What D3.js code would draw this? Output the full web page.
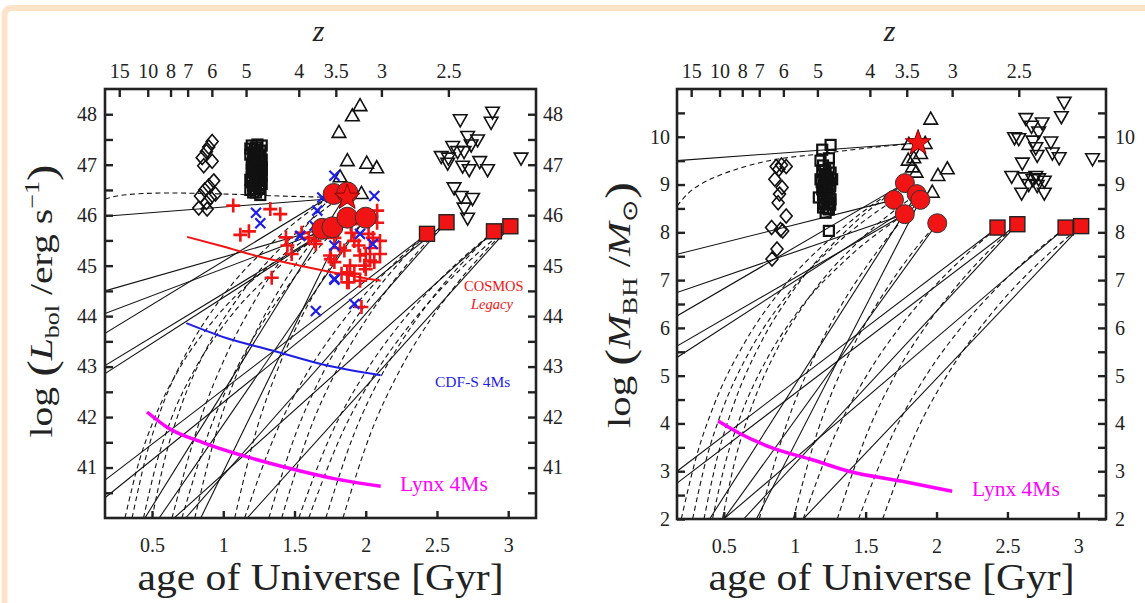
<!DOCTYPE html>
<html><head><meta charset="utf-8">
<script src="https://cdn.jsdelivr.net/npm/d3@7"></script>
<style>
body{margin:0;background:#fff}
svg{display:block}
text{font-family:"Liberation Serif","Times New Roman",serif;fill:#222}
</style>
</head><body>
<svg id="c" width="1145" height="603"></svg>
<script>
// ---------------- data ----------------
const ageTicks = [0.5, 1, 1.5, 2, 2.5, 3];
const zTickLabels = ["15","10","8","7","6","5","4","3.5","3","2.5"];
const zTickAges = [0.27, 0.47, 0.63, 0.75, 0.92, 1.16, 1.53, 1.79, 2.11, 2.58];
const lumTicks = [40.5,41,41.5,42,42.5,43,43.5,44,44.5,45,45.5,46,46.5,47,47.5,48];
const massTicks = [2,2.5,3,3.5,4,4.5,5,5.5,6,6.5,7,7.5,8,8.5,9,9.5,10,10.5];

// left panel (log Lbol)
const diamondsL = [[0.922,47.46],[0.898,47.35],[0.882,47.26],[0.852,47.14],[0.922,47.07],[0.863,46.98],[0.933,46.68],[0.898,46.58],[0.84,46.38],[0.91,46.35],[0.882,46.25],[0.828,46.14],[0.887,46.12],[0.945,46.42],[0.87,46.5]];
const squaresL = [[1.20,47.38],[1.24,47.40],[1.27,47.38],[1.22,47.30],[1.26,47.28],[1.19,47.20],[1.25,47.18],[1.27,47.10],[1.21,47.08],[1.23,47.0],[1.27,46.95],[1.20,46.90],[1.25,46.85],[1.27,46.78],[1.22,46.78],[1.19,46.70],[1.24,46.68],[1.27,46.62],[1.21,46.58],[1.25,46.55],[1.23,46.45],[1.26,46.40],[1.20,46.65],[1.27,46.90],[1.22,47.15],[1.24,46.95],[1.19,47.32],[1.25,47.05],[1.21,46.85],[1.26,46.72],[1.23,46.60],[1.19,46.50],[1.24,47.24],[1.22,46.52],[1.23,47.34],[1.21,47.24],[1.26,47.15],[1.23,47.10],[1.20,47.02],[1.26,47.00],[1.22,46.92],[1.24,46.80],[1.20,46.75],[1.26,46.52],[1.23,46.70],[1.21,46.45]];
const triUpL = [[1.96,48.16],[1.906,47.96],[1.812,47.63],[1.871,47.07],[2.007,47.02],[2.077,46.93],[1.82,46.75],[1.97,46.42]];
const triDownL = [[2.663,47.90],[2.89,48.05],[2.88,47.85],[2.715,47.57],[2.785,47.50],[2.53,47.17],[2.61,47.37],[2.645,47.27],[2.69,47.27],[2.575,47.04],[2.80,47.07],[2.855,46.91],[2.726,46.91],[2.68,46.98],[3.09,47.14],[2.62,46.55],[2.67,46.38],[2.75,46.34],[2.69,46.15],[2.715,45.95],[2.58,47.14],[2.74,47.40]];
const circlesL = [[1.775,46.42],[1.871,46.45],[1.695,45.73],[1.766,45.76],[1.871,45.95],[2.0,45.95]];
const starL = [[1.87,46.35]];
const redSquaresL = [[2.43,45.63],[2.567,45.86],[2.90,45.68],[3.015,45.78]];
const plusL = [[1.07,46.19],[1.33,46.12],[1.40,46.02],[1.12,45.61],[1.18,45.68],[1.44,45.56],[1.48,45.23],[1.45,45.40],[1.65,45.43],[1.755,45.13],[1.34,44.76],[2.08,46.09],[2.02,45.63],[1.92,45.49],[2.10,45.49],[1.64,45.49],[1.75,45.20],[1.85,45.30],[1.96,45.20],[2.0,45.23],[1.78,45.07],[1.89,45.0],[1.99,45.0],[2.06,45.07],[1.92,44.84],[1.83,44.84],[2.0,44.93],[1.87,44.67],[1.96,44.70],[2.1,45.23],[2.03,45.35],[1.895,45.82],[1.87,44.87],[2.03,45.10],[1.97,44.18],[1.88,44.67],[1.60,45.55],[1.55,45.65],[1.90,45.65],[2.05,45.55],[1.82,45.35],[1.95,45.40],[2.08,45.85],[1.78,45.55]];
const crossL = [[1.23,46.05],[1.26,45.84],[1.54,45.59],[1.64,45.79],[1.66,46.09],[1.695,46.35],[1.78,46.78],[1.78,45.40],[2.06,46.38],[1.96,45.63],[2.05,45.43],[1.78,44.72],[1.65,44.10],[1.92,44.24],[1.78,44.74]];
const cosmosCurve = [[0.746,45.57],[1.0,45.38],[1.25,45.18],[1.54,45.0],[1.82,44.84],[2.105,44.70]];
const cdfsCurve = [[0.741,43.86],[1.015,43.57],[1.344,43.32],[1.73,43.02],[2.105,42.83]];
const lynxCurveL = [[0.465,42.10],[0.605,41.80],[0.863,41.49],[1.168,41.21],[1.47,40.98],[1.777,40.78],[2.105,40.63]];
const solidL = [[0.17,45.98,1.87,46.35],[0.17,44.50,1.695,45.73],[0.17,44.05,1.766,45.76],[0.17,43.66,1.775,46.42],[0.17,43.02,1.766,45.76],[0.17,42.86,1.871,45.95],[0.17,40.75,2.43,45.63],[0.17,40.40,2.567,45.86],[0.655,40,2.90,45.68],[0.736,40,2.567,45.86],[0.55,40,2.0,45.95],[0.842,40,1.871,45.95],[1.168,40,3.015,45.78],[0.45,40,1.871,46.45]];
const dashedL = [
 [[0.17,46.32],[0.3,46.40],[0.6,46.44],[1.0,46.42],[1.4,46.38],[1.8,46.35]],
 [[0.31,40],[0.409,41.12],[0.508,41.91],[0.706,43.03],[0.904,43.82],[1.299,44.94],[1.695,45.73]],
 [[0.36,40],[0.461,41.25],[0.562,42.14],[0.764,43.39],[0.966,44.28],[1.371,45.53],[1.775,46.42]],
 [[0.44,40],[0.535,41.12],[0.629,41.92],[0.819,43.04],[1.009,43.84],[1.388,44.97],[1.766,45.76]],
 [[0.50,40],[0.598,41.26],[0.696,42.15],[0.892,43.41],[1.088,44.30],[1.479,45.56],[1.871,46.45]],
 [[0.64,40],[0.829,41.87],[1.018,43.21],[1.208,44.24],[1.397,45.08],[1.586,45.80],[1.775,46.42]],
 [[0.71,40],[0.904,41.74],[1.097,42.98],[1.291,43.93],[1.484,44.71],[1.678,45.38],[1.871,45.95]],
 [[0.80,40],[0.949,41.67],[1.098,42.87],[1.248,43.79],[1.397,44.54],[1.546,45.18],[1.695,45.73]],
 [[1.08,40],[1.233,41.74],[1.387,42.98],[1.54,43.93],[1.693,44.71],[1.847,45.38],[2.0,45.95]],
 [[1.15,40],[1.363,41.64],[1.577,42.82],[1.79,43.72],[2.003,44.46],[2.217,45.09],[2.43,45.63]],
 [[1.32,40],[1.505,41.64],[1.69,42.82],[1.875,43.72],[2.06,44.46],[2.245,45.09],[2.43,45.63]],
 [[1.41,40],[1.603,41.71],[1.796,42.93],[1.989,43.87],[2.181,44.64],[2.374,45.30],[2.567,45.86]],
 [[1.53,40],[1.758,41.66],[1.987,42.84],[2.215,43.75],[2.443,44.50],[2.672,45.13],[2.90,45.68]],
 [[1.72,40],[1.917,41.66],[2.113,42.84],[2.31,43.75],[2.507,44.50],[2.703,45.13],[2.90,45.68]],
 [[1.60,40],[1.836,41.69],[2.072,42.89],[2.308,43.82],[2.543,44.58],[2.779,45.23],[3.015,45.78]],
 [[1.84,40],[2.036,41.69],[2.232,42.89],[2.428,43.82],[2.623,44.58],[2.819,45.23],[3.015,45.78]]
];

// right panel (log MBH)
const diamondsR = [[0.869,9.38],[0.907,9.41],[0.94,9.38],[0.888,9.32],[0.86,9.11],[0.911,8.94],[0.893,8.80],[0.883,8.62],[0.94,8.34],[0.837,8.10],[0.90,8.06],[0.915,8.03],[0.875,7.65],[0.84,7.44]];
const squaresR = [[1.253,9.83],[1.194,9.73],[1.241,9.55],[1.182,9.50],[1.194,9.29],[1.218,9.22],[1.253,9.25],[1.182,9.11],[1.218,9.04],[1.264,9.11],[1.194,8.90],[1.230,8.83],[1.17,8.73],[1.253,8.69],[1.206,8.59],[1.241,8.48],[1.218,8.41],[1.241,8.03],[1.206,9.0],[1.23,8.95],[1.2,8.78],[1.245,8.75],[1.21,8.65],[1.23,9.15],[1.2,9.4],[1.24,9.35],[1.22,8.88],[1.19,9.05],[1.25,8.58],[1.215,9.30],[1.235,9.08],[1.205,8.92],[1.25,8.97],[1.225,8.70],[1.2,8.52],[1.24,8.62],[1.21,9.18],[1.25,9.02],[1.23,8.50]];
const triUpR = [[1.959,10.36],[1.805,9.83],[1.92,9.85],[1.888,9.64],[1.80,9.50],[1.84,9.55],[1.83,9.36],[1.856,9.25],[2.01,9.18],[2.076,9.32],[1.97,8.83]];
const triDownR = [[2.90,10.73],[2.88,10.43],[2.63,10.39],[2.67,10.23],[2.745,10.30],[2.72,10.11],[2.55,9.99],[2.58,9.97],[2.68,9.92],[2.806,9.90],[2.70,9.78],[2.817,9.67],[2.865,9.57],[2.71,9.62],[2.605,9.46],[3.10,9.55],[2.53,9.18],[2.62,9.15],[2.68,9.11],[2.72,9.13],[2.76,9.08],[2.65,9.01],[2.71,8.99],[2.60,8.83],[2.76,8.83],[2.70,9.18]];
const circlesR = [[1.777,9.03],[1.70,8.68],[1.86,8.80],[1.886,8.68],[1.776,8.38],[2.005,8.19]];
const starR = [[1.87,9.87]];
const redSquaresR = [[2.43,8.10],[2.57,8.17],[2.91,8.10],[3.02,8.13]];
const lynxCurveR = [[0.46,4.05],[0.606,3.80],[0.841,3.49],[1.124,3.24],[1.38,3.0],[1.758,2.79],[2.11,2.58]];
const solidR = [[0.17,9.50,1.87,9.87],[0.17,7.54,1.70,8.68],[0.17,6.74,1.776,8.38],[0.17,6.25,1.777,9.03],[0.17,5.62,1.776,8.38],[0.17,5.38,1.886,8.68],[0.17,3.00,2.43,8.10],[0.17,2.75,2.57,8.17],[0.50,2,2.91,8.10],[0.64,2,2.57,8.17],[0.50,2,2.005,8.19],[0.73,2,1.886,8.68],[1.06,2,3.02,8.13],[0.40,2,1.86,8.80]];
const dashedR = [
 [[0.17,8.55],[0.25,8.82],[0.35,9.03],[0.46,9.18],[0.62,9.35],[0.82,9.50],[1.17,9.64],[1.5,9.76],[1.87,9.87]],
 [[0.28,2],[0.381,3.30],[0.483,4.23],[0.686,5.53],[0.889,6.46],[1.294,7.76],[1.70,8.68]],
 [[0.36,2],[0.461,3.37],[0.563,4.34],[0.765,5.71],[0.968,6.69],[1.372,8.06],[1.777,9.03]],
 [[0.42,2],[0.517,3.24],[0.614,4.12],[0.808,5.37],[1.002,6.26],[1.388,7.50],[1.776,8.38]],
 [[0.49,2],[0.588,3.33],[0.686,4.26],[0.882,5.59],[1.078,6.54],[1.468,7.86],[1.86,8.80]],
 [[0.20,2],[0.313,3.37],[0.425,4.34],[0.651,5.71],[0.876,6.69],[1.326,8.06],[1.777,9.03]],
 [[0.75,2],[0.939,3.95],[1.129,5.34],[1.318,6.42],[1.507,7.29],[1.696,8.04],[1.886,8.68]],
 [[0.99,2],[1.159,3.81],[1.328,5.10],[1.498,6.09],[1.667,6.90],[1.836,7.60],[2.005,8.19]],
 [[1.06,2],[1.288,3.78],[1.517,5.05],[1.745,6.03],[1.973,6.83],[2.202,7.51],[2.43,8.10]],
 [[1.30,2],[1.512,3.80],[1.723,5.09],[1.935,6.08],[2.147,6.89],[2.358,7.58],[2.57,8.17]],
 [[1.45,2],[1.693,3.78],[1.937,5.05],[2.18,6.03],[2.423,6.83],[2.667,7.51],[2.91,8.10]],
 [[1.62,2],[1.853,3.79],[2.087,5.07],[2.32,6.05],[2.553,6.86],[2.787,7.54],[3.02,8.13]]
];

// ---------------- drawing ----------------
const svg = d3.select("#c");
const RED = "#f01414", BLUE = "#1e1ee6", MAG = "#ff00ff";

// outer peach frame
svg.append("path").attr("d","M4.5,603 L4.5,16 Q4.5,8 12.5,8 L1145,8")
   .attr("fill","none").attr("stroke","#fde3c8").attr("stroke-width",6);

function panel(cfg){
  const x = d3.scaleLinear().domain([0.17,3.195]).range([cfg.x0,cfg.x1]);
  const y = d3.scaleLinear().domain(cfg.ydom).range([cfg.y1,cfg.y0]);
  const g = svg.append("g");
  const cid = "clip"+cfg.id;
  g.append("clipPath").attr("id",cid).append("rect")
   .attr("x",cfg.x0).attr("y",cfg.y0).attr("width",cfg.x1-cfg.x0).attr("height",cfg.y1-cfg.y0);
  const pg = g.append("g").attr("clip-path",`url(#${cid})`);

  // growth tracks
  pg.selectAll("line.s").data(cfg.solid).join("line")
    .attr("x1",d=>x(d[0])).attr("y1",d=>y(d[1])).attr("x2",d=>x(d[2])).attr("y2",d=>y(d[3]))
    .attr("stroke","#111").attr("stroke-width",1.1);
  const ln = d3.line().x(d=>x(d[0])).y(d=>y(d[1])).curve(d3.curveMonotoneX);
  pg.selectAll("path.d").data(cfg.dashed).join("path")
    .attr("d",ln).attr("fill","none").attr("stroke","#111").attr("stroke-width",1.1)
    .attr("stroke-dasharray","5,3.5");
  // survey curves
  cfg.curves.forEach(c=>{
    pg.append("path").attr("d",ln(c.data)).attr("fill","none")
      .attr("stroke",c.color).attr("stroke-width",c.w);
  });
  // open markers
  const diamond = "M0,-7L6,0L0,7L-6,0Z";
  const triUp = "M0,-7.5L6.8,4.5L-6.8,4.5Z";
  const triDown = "M0,7.5L6.8,-4.5L-6.8,-4.5Z";
  const mk = (data,path,sw)=>pg.append("g").selectAll("path").data(data).join("path")
    .attr("transform",d=>`translate(${x(d[0])},${y(d[1])})`).attr("d",path)
    .attr("fill","none").attr("stroke","#111").attr("stroke-width",sw);
  mk(cfg.diamonds,diamond,1.6);
  pg.append("g").selectAll("rect").data(cfg.squares).join("rect")
    .attr("x",d=>x(d[0])-5).attr("y",d=>y(d[1])-5).attr("width",10).attr("height",10)
    .attr("fill","none").attr("stroke","#111").attr("stroke-width",2.2);
  mk(cfg.triUp,triUp,1.6);
  mk(cfg.triDown,triDown,1.6);
  if(cfg.plus){
    pg.append("g").selectAll("path").data(cfg.plus).join("path")
      .attr("transform",d=>`translate(${x(d[0])},${y(d[1])})`)
      .attr("d","M-7,0H7M0,-7V7").attr("stroke",RED).attr("stroke-width",2.6);
  }
  if(cfg.cross){
    pg.append("g").selectAll("path").data(cfg.cross).join("path")
      .attr("transform",d=>`translate(${x(d[0])},${y(d[1])})`)
      .attr("d","M-5,-5L5,5M-5,5L5,-5").attr("stroke",BLUE).attr("stroke-width",2.2);
  }
  // red objects
  pg.append("g").selectAll("rect").data(cfg.redSquares).join("rect")
    .attr("x",d=>x(d[0])-7.5).attr("y",d=>y(d[1])-7.5).attr("width",15).attr("height",15)
    .attr("fill",RED).attr("stroke","#222").attr("stroke-width",1.4);
  pg.append("g").selectAll("circle").data(cfg.circles).join("circle")
    .attr("cx",d=>x(d[0])).attr("cy",d=>y(d[1])).attr("r",cfg.r)
    .attr("fill",RED).attr("stroke","#333").attr("stroke-width",1);
  const starPts = d3.range(10).map(i=>{const a=-Math.PI/2+i*Math.PI/5, rr=i%2?5.5:13.5;return [rr*Math.cos(a),rr*Math.sin(a)];});
  pg.append("g").selectAll("path").data(cfg.star).join("path")
    .attr("transform",d=>`translate(${x(d[0])},${y(d[1])})`)
    .attr("d","M"+starPts.join("L")+"Z").attr("fill",RED).attr("stroke","#8a0000").attr("stroke-width",1);

  // axes
  const ax = svg.append("g");
  const style = sel=>{sel.select(".domain").remove();
    sel.selectAll(".tick line").attr("stroke","#222").attr("stroke-width",2.4);
    sel.selectAll(".tick text").attr("fill","#222").attr("font-size",20);};
  ax.append("g").attr("transform",`translate(0,${cfg.y1})`)
    .call(d3.axisBottom(x).tickValues(ageTicks).tickSize(-7).tickPadding(20).tickFormat(d3.format("")))
    .call(style);
  ax.append("g").attr("transform",`translate(0,${cfg.y0})`)
    .call(d3.axisTop(x).tickValues(zTickAges).tickSize(-8).tickPadding(11).tickFormat((d,i)=>zTickLabels[i]))
    .call(style);
  const yf = d=> (Number.isInteger(d) ? String(d) : "");
  ax.append("g").attr("transform",`translate(${cfg.x0},0)`)
    .call(d3.axisLeft(y).tickValues(cfg.yticks).tickSize(-8).tickPadding(cfg.padL).tickFormat(yf)).call(style);
  ax.append("g").attr("transform",`translate(${cfg.x1},0)`)
    .call(d3.axisRight(y).tickValues(cfg.yticks).tickSize(-8).tickPadding(cfg.padR).tickFormat(yf)).call(style);
  svg.append("rect").attr("x",cfg.x0).attr("y",cfg.y0).attr("width",cfg.x1-cfg.x0).attr("height",cfg.y1-cfg.y0)
    .attr("fill","none").attr("stroke","#222").attr("stroke-width",2.6);

  // axis titles
  const cx = (cfg.x0+cfg.x1)/2;
  svg.append("text").attr("x",cx).attr("y",590).attr("text-anchor","middle")
    .attr("font-size",38).attr("textLength",366).attr("lengthAdjust","spacingAndGlyphs")
    .text("age of Universe [Gyr]");
  svg.append("text").attr("x",cx-2).attr("y",41).attr("text-anchor","middle")
    .attr("font-size",30).attr("font-style","italic").text("z");
  return {x,y};
}

panel({id:"L",x0:105,x1:536,y0:89,y1:518,ydom:[40,48.5],yticks:lumTicks,padL:8,padR:7,r:10.5,
  solid:solidL,dashed:dashedL,
  curves:[{data:cosmosCurve,color:RED,w:2},{data:cdfsCurve,color:BLUE,w:2},{data:lynxCurveL,color:MAG,w:3.5}],
  diamonds:diamondsL,squares:squaresL,triUp:triUpL,triDown:triDownL,plus:plusL,cross:crossL,
  redSquares:redSquaresL,circles:circlesL,star:starL});
panel({id:"R",x0:677,x1:1106,y0:89,y1:519,ydom:[2,11],yticks:massTicks,padL:7,padR:9,r:9.5,
  solid:solidR,dashed:dashedR,
  curves:[{data:lynxCurveR,color:MAG,w:3.5}],
  diamonds:diamondsR,squares:squaresR,triUp:triUpR,triDown:triDownR,
  redSquares:redSquaresR,circles:circlesR,star:starR});

// labels in panels
svg.append("text").attr("x",464).attr("y",291).attr("font-size",14.5).style("fill",RED).text("COSMOS");
svg.append("text").attr("x",471).attr("y",309).attr("font-size",14.5).attr("font-style","italic").style("fill",RED).text("Legacy");
svg.append("text").attr("x",435).attr("y",387).attr("font-size",15.5).style("fill",BLUE).text("CDF-S 4Ms");
svg.append("text").attr("x",400).attr("y",491).attr("font-size",21.5).style("fill",MAG).text("Lynx 4Ms");
svg.append("text").attr("x",972).attr("y",496).attr("font-size",21.5).style("fill",MAG).text("Lynx 4Ms");

// y-axis titles
const t1 = svg.append("text").attr("transform","translate(52,301) rotate(-90)")
  .attr("text-anchor","middle").attr("font-size",32).attr("textLength",273).attr("lengthAdjust","spacingAndGlyphs");
t1.append("tspan").text("log ");
t1.append("tspan").attr("font-size",40).attr("dy",3).text("(");
t1.append("tspan").attr("font-style","italic").attr("dy",-3).text("L");
t1.append("tspan").attr("font-size",21).attr("dy",7).text("bol");
t1.append("tspan").attr("dy",-7).text(" /erg s");
t1.append("tspan").attr("font-size",21).attr("dy",-13).text("\u22121");
t1.append("tspan").attr("font-size",40).attr("dy",16).text(")");

const t2 = svg.append("text").attr("transform","translate(630,305) rotate(-90)")
  .attr("text-anchor","middle").attr("font-size",32).attr("textLength",246).attr("lengthAdjust","spacingAndGlyphs");
t2.append("tspan").text("log ");
t2.append("tspan").attr("font-size",40).attr("dy",3).text("(");
t2.append("tspan").attr("font-style","italic").attr("dy",-3).text("M");
t2.append("tspan").attr("font-size",21).attr("dy",7).text("BH");
t2.append("tspan").attr("dy",-7).text(" /");
t2.append("tspan").attr("font-style","italic").text("M");
t2.append("tspan").attr("font-size",21).attr("dy",7).text("\u2299");
t2.append("tspan").attr("font-size",40).attr("dy",-4).text(")");
</script>
</body></html>
